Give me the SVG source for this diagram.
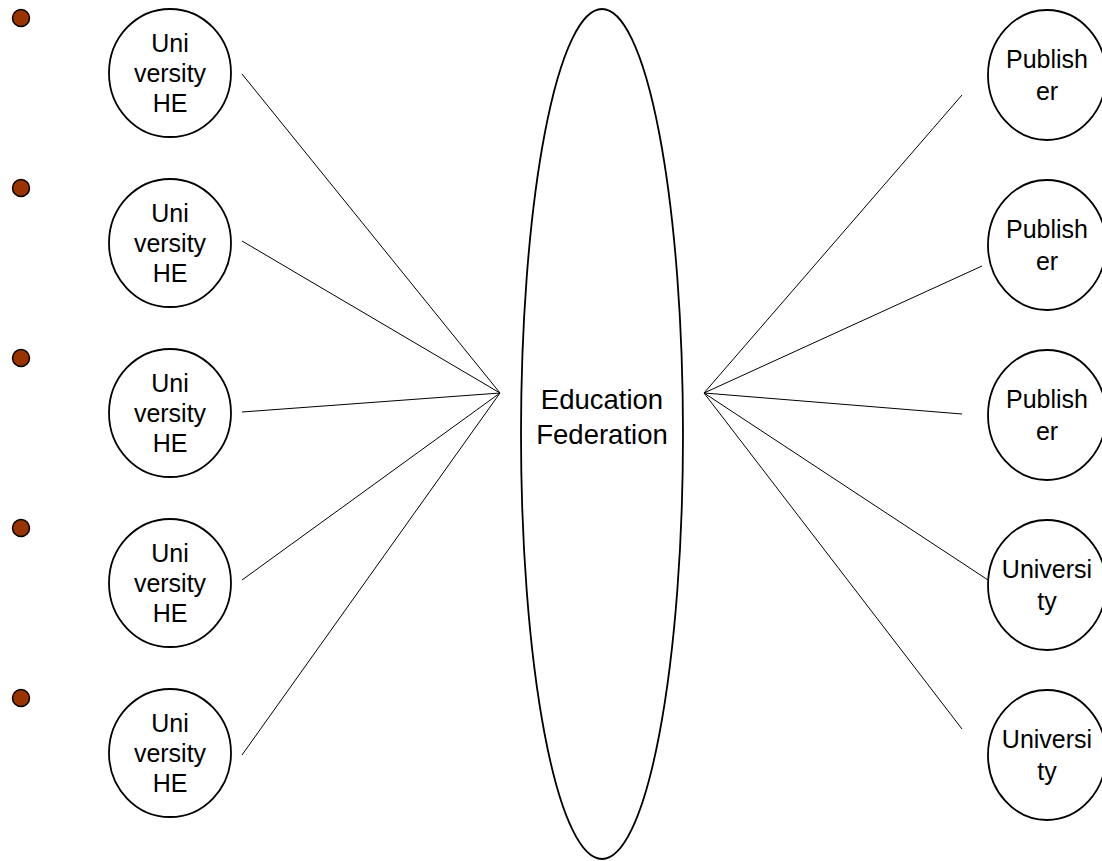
<svg xmlns="http://www.w3.org/2000/svg" width="1102" height="861" viewBox="0 0 1102 861">
<style>
.n{fill:#fff;stroke:#000;stroke-width:1.8}
.t{font-family:"Liberation Sans",Arial,sans-serif;font-size:25px;fill:#000;text-anchor:middle}
.c{font-size:27.5px}
.b{fill:#993300;stroke:#000;stroke-width:1.5}
.e line{stroke:#000;stroke-width:1}
</style>
<g id="bullets">
<circle class="b" cx="21" cy="18" r="8.5"/>
<circle class="b" cx="21" cy="188" r="8.5"/>
<circle class="b" cx="21" cy="358" r="8.5"/>
<circle class="b" cx="21" cy="528" r="8.5"/>
<circle class="b" cx="21" cy="698" r="8.5"/>
</g>
<g id="connectors" class="e">
<line x1="242" y1="74" x2="500" y2="393"/>
<line x1="242" y1="241" x2="500" y2="393"/>
<line x1="242" y1="412" x2="500" y2="393"/>
<line x1="242" y1="580" x2="500" y2="393"/>
<line x1="242" y1="755" x2="500" y2="393"/>
<line x1="704" y1="393" x2="962" y2="95"/>
<line x1="704" y1="393" x2="982" y2="266"/>
<line x1="704" y1="393" x2="962" y2="414"/>
<line x1="704" y1="393" x2="988" y2="580"/>
<line x1="704" y1="393" x2="962" y2="729"/>
</g>
<g id="federation">
<ellipse class="n" cx="602" cy="434" rx="81" ry="425"/>
<text class="t c" x="602" y="409">Education</text>
<text class="t c" x="602" y="444">Federation</text>
</g>
<g id="uni1"><ellipse class="n" cx="170" cy="73" rx="61" ry="64"/><text class="t" x="170" y="52">Uni</text><text class="t" x="170" y="82">versity</text><text class="t" x="170" y="112">HE</text></g>
<g id="uni2"><ellipse class="n" cx="170" cy="243" rx="61" ry="64"/><text class="t" x="170" y="222">Uni</text><text class="t" x="170" y="252">versity</text><text class="t" x="170" y="282">HE</text></g>
<g id="uni3"><ellipse class="n" cx="170" cy="413" rx="61" ry="64"/><text class="t" x="170" y="392">Uni</text><text class="t" x="170" y="422">versity</text><text class="t" x="170" y="452">HE</text></g>
<g id="uni4"><ellipse class="n" cx="170" cy="583" rx="61" ry="64"/><text class="t" x="170" y="562">Uni</text><text class="t" x="170" y="592">versity</text><text class="t" x="170" y="622">HE</text></g>
<g id="uni5"><ellipse class="n" cx="170" cy="753" rx="61" ry="64"/><text class="t" x="170" y="732">Uni</text><text class="t" x="170" y="762">versity</text><text class="t" x="170" y="792">HE</text></g>
<g id="pub1"><ellipse class="n" cx="1047" cy="75" rx="59" ry="65"/><text class="t" x="1047" y="68">Publish</text><text class="t" x="1047" y="100">er</text></g>
<g id="pub2"><ellipse class="n" cx="1047" cy="245" rx="59" ry="65"/><text class="t" x="1047" y="238">Publish</text><text class="t" x="1047" y="270">er</text></g>
<g id="pub3"><ellipse class="n" cx="1047" cy="415" rx="59" ry="65"/><text class="t" x="1047" y="408">Publish</text><text class="t" x="1047" y="440">er</text></g>
<g id="univ1"><ellipse class="n" cx="1047" cy="585" rx="59" ry="65"/><text class="t" x="1047" y="578">Universi</text><text class="t" x="1047" y="610">ty</text></g>
<g id="univ2"><ellipse class="n" cx="1047" cy="755" rx="59" ry="65"/><text class="t" x="1047" y="748">Universi</text><text class="t" x="1047" y="780">ty</text></g>
</svg>
